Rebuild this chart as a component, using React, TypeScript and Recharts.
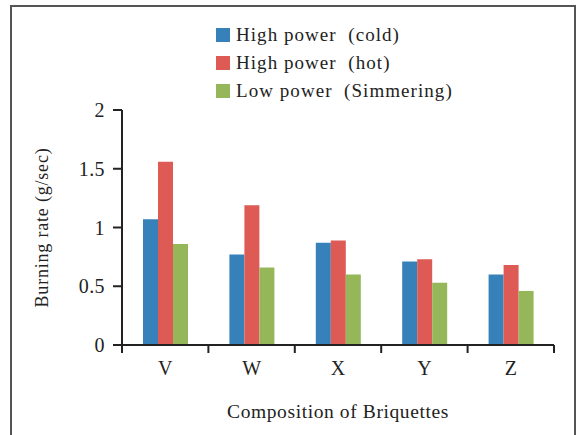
import { Bar, BarChart, Label, Legend, XAxis, YAxis } from "recharts";

const categories = ["V", "W", "X", "Y", "Z"];
const highPowerCold = [1.07, 0.77, 0.87, 0.71, 0.6];
const highPowerHot = [1.56, 1.19, 0.89, 0.73, 0.68];
const lowPowerSimmering = [0.86, 0.66, 0.6, 0.53, 0.46];
const yTicks = [0, 0.5, 1, 1.5, 2];
const seriesNames = ["High power  (cold)", "High power  (hot)", "Low power  (Simmering)"];

const COLORS = ["#3681BA", "#DD5A55", "#95B75A"];
const FONT = '"Liberation Serif", "Times New Roman", serif';
const INK = "#222";
const TICK_SIZE = 8;
const TICK_MARGIN = 9;

const data = categories.map((name, i) => ({
  name,
  cold: highPowerCold[i],
  hot: highPowerHot[i],
  simmer: lowPowerSimmering[i],
}));

// x ticks sit on category boundaries, label in the middle
function BoundaryTick(props: any) {
  const { x, y, payload, index, visibleTicksCount } = props;
  const half = payload?.offset ?? 43;
  const axisY = y - TICK_SIZE - TICK_MARGIN;
  const last = index === visibleTicksCount - 1;
  return (
    <g>
      <line x1={x - half} x2={x - half} y1={axisY} y2={axisY + TICK_SIZE} stroke={INK} strokeWidth={2} />
      {last && (
        <line x1={x + half} x2={x + half} y1={axisY} y2={axisY + TICK_SIZE} stroke={INK} strokeWidth={2} />
      )}
      <text x={x} y={y} dy={13} textAnchor="middle" fontFamily={FONT} fontSize={20} fill={INK}>
        {payload.value}
      </text>
    </g>
  );
}

function LegendBox({ payload }: any) {
  return (
    <div style={{ fontFamily: FONT, fontSize: 19, letterSpacing: 1.05, color: INK }}>
      {(payload ?? []).map((p: any, i: number) => (
        <div key={i} style={{ display: "flex", alignItems: "center", height: 28, whiteSpace: "pre" }}>
          <span style={{ width: 14, height: 14, background: p.color, marginRight: 6, display: "inline-block" }} />
          <span>{p.value}</span>
        </div>
      ))}
    </div>
  );
}

export default function App() {
  return (
    <div style={{ position: "relative", width: 583, height: 435, overflow: "hidden", background: "#fff" }}>
      <style>{"body{margin:0}"}</style>
      <div
        style={{
          position: "absolute",
          left: 10,
          top: 5,
          width: 566,
          height: 460,
          border: "2px solid #555",
          boxSizing: "border-box",
        }}
      />
      <div style={{ position: "absolute", left: 0, top: 0 }}>
        <BarChart
          width={583}
          height={435}
          data={data}
          margin={{ top: 110, right: 29, bottom: 0, left: 0 }}
          barGap={0}
          barSize={15}
        >
          <XAxis
            dataKey="name"
            height={90}
            axisLine={{ stroke: INK, strokeWidth: 2 }}
            tickLine={false}
            tickSize={TICK_SIZE}
            tickMargin={TICK_MARGIN}
            tick={<BoundaryTick />}
            interval={0}
          >
            <Label
              value="Composition of Briquettes"
              position="insideBottom"
              offset={17}
              style={{ fontFamily: FONT, fontSize: 19.5, letterSpacing: 0.6, fill: INK }}
            />
          </XAxis>
          <YAxis
            width={122}
            domain={[0, 2]}
            ticks={yTicks}
            interval={0}
            axisLine={{ stroke: INK, strokeWidth: 2 }}
            tickLine={{ stroke: INK, strokeWidth: 2 }}
            tickSize={9}
            tickMargin={8}
            tick={{ fontFamily: FONT, fontSize: 20, letterSpacing: 0.4, fill: INK }}
          >
            <Label
              value="Burning rate (g/sec)"
              angle={-90}
              position="insideLeft"
              offset={42}
              style={{ fontFamily: FONT, fontSize: 18, letterSpacing: 0.8, fill: INK, textAnchor: "middle" }}
            />
          </YAxis>
          <Legend
            layout="vertical"
            align="center"
            verticalAlign="middle"
            wrapperStyle={{ left: 216, top: 21, width: "auto" }}
            content={<LegendBox />}
          />
          <Bar dataKey="cold" name={seriesNames[0]} fill={COLORS[0]} isAnimationActive={false} />
          <Bar dataKey="hot" name={seriesNames[1]} fill={COLORS[1]} isAnimationActive={false} />
          <Bar dataKey="simmer" name={seriesNames[2]} fill={COLORS[2]} isAnimationActive={false} />
        </BarChart>
      </div>
    </div>
  );
}
